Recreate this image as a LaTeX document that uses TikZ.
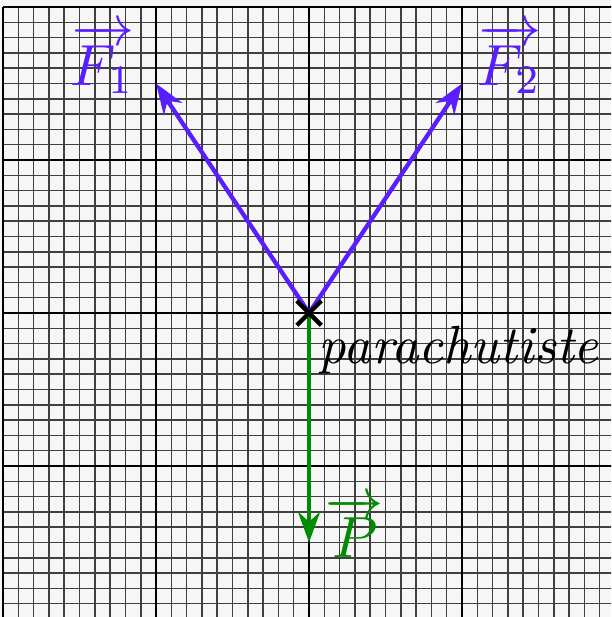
\documentclass[tikz,border=0pt]{standalone}
\usepackage{amsmath, amssymb}
\usepackage{tikz}
\usetikzlibrary{arrows.meta}
\definecolor{forceblue}{RGB}{88,30,255}
\definecolor{forcegreen}{RGB}{0,140,0}
\definecolor{paper}{RGB}{246,246,246}

\begin{document}
\begin{tikzpicture}[x=0.25cm, y=0.25cm, >={Stealth[length=5mm, width=3.6mm]},
		etiquette/.style={scale=2.5},
		vecteur/.style={scale=2.7},
		petit/.style={black!75, line width=0.7pt},
		grand/.style={black, line width=1.2pt},
		force/.style={->, line width=2pt}]
	% fond et cadre
	\fill[paper] (-20.2,-19.87) rectangle (19.74,20.46);
	\useasboundingbox (-20.2,-19.87) rectangle (19.74,20.46);
	\clip (-20.2,-19.87) rectangle (19.74,20.46);
	
	% quadrillage
	\draw[petit] (-20,-21) grid[step=1] (21,20);
	\draw[grand] (-20,-21) grid[step=10] (21,20);
	
	% point d'application et extremites
	\coordinate (O) at (0,0);
	\coordinate (A) at (-10,15);
	\coordinate (B) at (10,15);
	\coordinate (C) at (0,-15);
	
	% forces
	\draw[force, forceblue] (O) -- (A);
	\draw[force, forceblue] (O) -- (B);
	\draw[force, forcegreen] (O) -- (C);
	\draw[line width=2pt] (O) ++(-0.8,-0.8) -- ++(1.6,1.6) (O) ++(-0.8,0.8) -- ++(1.6,-1.6);
	
	% noms
	\node[vecteur, forceblue] (nF1) at (-13.5,16.6) {$\overrightarrow{F_1}$};
	\node[vecteur, forceblue] (nF2) at (13.1,16.6) {$\overrightarrow{F_2}$};
	\node[vecteur, forcegreen] (nP) at (3.0,-14.0) {$\overrightarrow{P}$};
	\node[etiquette] (nom) at (9.8,-2.4) {\textit{parachutiste}};
\end{tikzpicture}
\end{document}
